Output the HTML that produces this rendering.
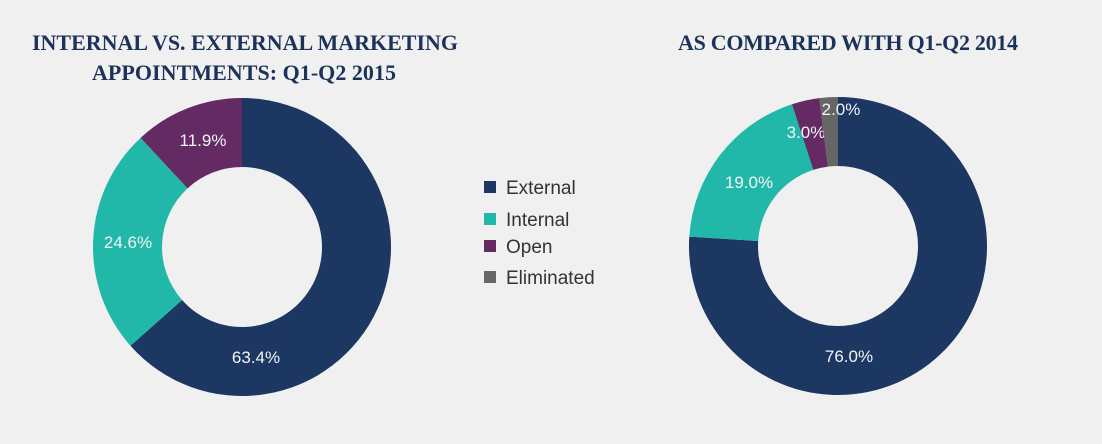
<!DOCTYPE html>
<html><head><meta charset="utf-8"><style>
body{margin:0;background:#f0f0f0;width:1102px;height:439px;overflow:hidden;font-family:"Liberation Sans",sans-serif}
</style></head><body>
<svg width="1102" height="439">
<g font-family="Liberation Serif,serif" font-weight="bold" font-size="22" fill="#1c3258" text-anchor="middle">
<text x="245" y="50" textLength="426">INTERNAL VS. EXTERNAL MARKETING</text>
<text x="244" y="80" textLength="304">APPOINTMENTS: Q1-Q2 2015</text>
<text x="848" y="50" textLength="340">AS COMPARED WITH Q1-Q2 2014</text>
</g>
<g id="left"></g><g id="right"></g><g id="legend"></g>
</svg>
<script>
const categories=["External","Internal","Open","Eliminated"];
const colors=["#1c3762","#21b8aa","#632a63","#666666"];
const values2015=[63.4,24.6,11.9,0];
const values2014=[76.0,19.0,3.0,2.0];
const labels2015=["63.4%","24.6%","11.9%",""];
const labels2014=["76.0%","19.0%","3.0%","2.0%"];
const NS="http://www.w3.org/2000/svg";
function donut(gid,cx,cy,R,r,vals,labs,labelPos){
  const g=document.getElementById(gid);
  const tot=vals.reduce((a,b)=>a+b,0);
  let a0=0;
  vals.forEach((v,i)=>{
    if(v<=0)return;
    const a1=a0+v/tot*2*Math.PI;
    const p=(a,rad)=>[cx+rad*Math.sin(a),cy-rad*Math.cos(a)];
    const [x1,y1]=p(a0,R),[x2,y2]=p(a1,R),[x3,y3]=p(a1,r),[x4,y4]=p(a0,r);
    const lg=(a1-a0)>Math.PI?1:0;
    const path=document.createElementNS(NS,"path");
    path.setAttribute("d",`M${x1},${y1}A${R},${R} 0 ${lg} 1 ${x2},${y2}L${x3},${y3}A${r},${r} 0 ${lg} 0 ${x4},${y4}Z`);
    path.setAttribute("fill",colors[i]);
    
    
    g.appendChild(path);
    const t=document.createElementNS(NS,"text");
    let lx,ly;
    if(labelPos&&labelPos[i]){[lx,ly]=labelPos[i];}
    else{const am=(a0+a1)/2;[lx,ly]=p(am,(R+r)/2);}
    t.setAttribute("x",lx);t.setAttribute("y",ly+6);
    t.setAttribute("fill","#f4f4f4");t.setAttribute("font-size","17");t.setAttribute("text-anchor","middle");
    t.textContent=labs[i];
    
    
    g.appendChild(t);
    a0=a1;
  });
}
donut("left",242,247,149,80,values2015,labels2015,[[256,357],[128,242],[203,140],null]);
donut("right",838,246,149,80,values2014,labels2014,[[849,356],[749,182],[806,132],[841,109]]);
const lg=document.getElementById("legend");
const ly=[187,219,246,277];
categories.forEach((c,i)=>{
  const rc=document.createElementNS(NS,"rect");
  rc.setAttribute("x",484);rc.setAttribute("y",ly[i]-6);rc.setAttribute("width",12);rc.setAttribute("height",12);rc.setAttribute("fill",colors[i]);
  
  
  lg.appendChild(rc);
  const t=document.createElementNS(NS,"text");
  t.setAttribute("x",506);t.setAttribute("y",ly[i]+7);t.setAttribute("font-size","19");t.setAttribute("fill","#333");
  t.textContent=c;
  
  
  lg.appendChild(t);
});
</script>
</body></html>
